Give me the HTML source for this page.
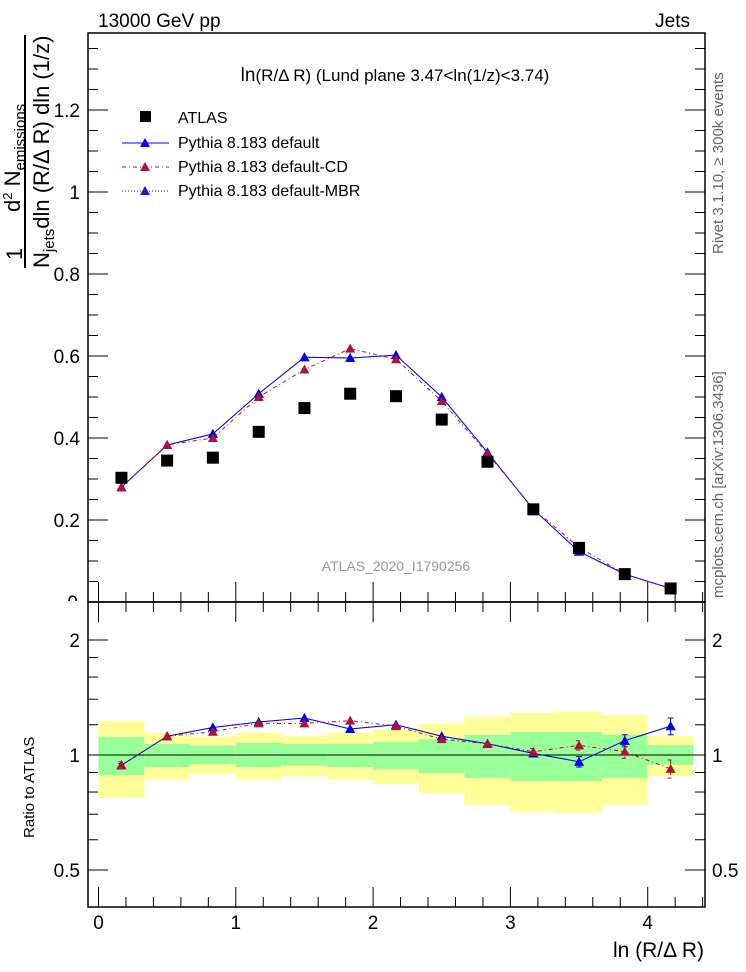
<!DOCTYPE html>
<html><head><meta charset="utf-8"><style>
body{margin:0;background:#fff}
svg{display:block;font-family:"Liberation Sans",sans-serif}
</style></head><body>
<svg id="chart" width="746" height="972" viewBox="0 0 746 972" xmlns="http://www.w3.org/2000/svg">
<rect width="746" height="972" fill="#fff"/>
<defs><clipPath id="zc"><rect x="0" y="590" width="86" height="11"/></clipPath></defs>
<g id="bands"></g>
<g id="axes"></g>
<g id="series"></g>
<text x="98" y="27" font-size="19">13000 GeV pp</text>
<text x="690" y="27" font-size="19" text-anchor="end">Jets</text>
<text x="395" y="81" font-size="17" text-anchor="middle"><tspan font-size="19">ln</tspan>(R/Δ R) (Lund plane 3.47&lt;ln(1/z)&lt;3.74)</text>
<text x="396" y="571" font-size="14" fill="#999" text-anchor="middle">ATLAS_2020_I1790256</text>
<text transform="translate(723,254) rotate(-90)" font-size="15" fill="#666">Rivet 3.1.10, ≥ 300k events</text>
<text transform="translate(723,598) rotate(-90)" font-size="15" fill="#666">mcplots.cern.ch [arXiv:1306.3436]</text>
<g font-size="22">
<line x1="25" y1="35" x2="25" y2="268" stroke="#000" stroke-width="2"/>
<text transform="translate(22,260) rotate(-90)" >1</text>
<text transform="translate(20,212) rotate(-90)">d<tspan font-size="13" dy="-8">2</tspan><tspan dy="8"> N</tspan><tspan font-size="15" dy="5">emissions</tspan></text>
<text transform="translate(49,268) rotate(-90)">N<tspan font-size="15" dy="5">jets</tspan><tspan dy="-5">dln (R/Δ R) dln (1/z)</tspan></text>
</g>
<text transform="translate(34,838) rotate(-90)" font-size="15">Ratio to ATLAS</text>
<text x="704" y="957" font-size="21" text-anchor="end">ln (R/Δ R)</text>
<g font-size="16">
<rect x="140" y="111" width="11" height="11" fill="#000"/>
<text x="178" y="123">ATLAS</text>
<line x1="122" y1="143" x2="169" y2="143" stroke="#00f"/>
<polygon points="145,138 150,147 140,147" fill="#00f"/>
<text x="178" y="148">Pythia 8.183 default</text>
<line x1="122" y1="167" x2="169" y2="167" stroke="#b0103a" stroke-dasharray="4,3,1,3"/>
<polygon points="145,162 150,171 140,171" fill="#b0103a"/>
<text x="178" y="172">Pythia 8.183 default-CD</text>
<line x1="122" y1="191" x2="169" y2="191" stroke="#3010c0" stroke-dasharray="1,2"/>
<polygon points="145,186 150,195 140,195" fill="#3010c0"/>
<text x="178" y="196">Pythia 8.183 default-MBR</text>
</g>
</svg>
<script>
const xCenters=[0.167,0.5,0.833,1.167,1.5,1.833,2.167,2.5,2.833,3.167,3.5,3.833,4.167];
const atlas=[0.303,0.345,0.352,0.415,0.473,0.508,0.502,0.445,0.342,0.226,0.132,0.068,0.033];
const pyDefault=[0.28,0.383,0.41,0.508,0.597,0.595,0.602,0.50,0.365,0.226,0.123,0.068,0.033];
const pyCD=[0.28,0.383,0.40,0.50,0.567,0.618,0.592,0.49,0.362,0.228,0.133,0.068,0.033];
const pyMBR=[0.28,0.383,0.41,0.508,0.597,0.595,0.602,0.50,0.365,0.226,0.123,0.068,0.033];
const ratioDefault=[0.94,1.12,1.18,1.22,1.25,1.17,1.20,1.12,1.07,1.01,0.96,1.09,1.19];
const ratioCD=[0.94,1.12,1.15,1.21,1.21,1.23,1.19,1.10,1.07,1.02,1.06,1.02,0.92];
const ratioMBR=[0.94,1.12,1.18,1.22,1.25,1.17,1.20,1.12,1.07,1.01,0.96,1.09,1.19];
const ratioDefaultErr=[0.01,0,0,0,0,0,0,0,0,0.01,0.03,0.04,0.06];
const ratioCDErr=[0.02,0,0,0,0,0,0,0,0,0.02,0.03,0.04,0.05];
const yellowHi=[1.228,1.144,1.117,1.144,1.123,1.144,1.167,1.208,1.26,1.29,1.30,1.27,1.123];
const yellowLo=[0.773,0.862,0.892,0.862,0.881,0.862,0.84,0.795,0.74,0.71,0.705,0.74,0.881];
const greenHi=[1.115,1.069,1.058,1.077,1.069,1.07,1.083,1.10,1.13,1.149,1.149,1.13,1.062];
const greenLo=[0.886,0.93,0.947,0.93,0.94,0.93,0.917,0.897,0.87,0.855,0.855,0.87,0.942];
const mainYTicks=[0.2,0.4,0.6,0.8,1,1.2];
const mainYLabels=["0.2","0.4","0.6","0.8","1","1.2"];
const xTicks=[0,1,2,3,4];
const ratioTicks=[0.5,1,2];

const NS="http://www.w3.org/2000/svg";
const L=88,R=705,T=33,MB=602,RB=907;
const X=v=>98.5+v*137.3;
const Y=v=>MB-v*410;
const RY=v=>755-Math.log2(v)*115;
function mk(tag,attrs,parent){const e=document.createElementNS(NS,tag);for(const k in attrs)e.setAttribute(k,attrs[k]);parent.appendChild(e);return e;}
const axes=document.getElementById('axes'),bands=document.getElementById('bands'),ser=document.getElementById('series');
const half=1/6;
xCenters.forEach((c,i)=>{
  const y=mk('rect',{x:X(c-half),y:RY(yellowHi[i]),width:X(c+half)-X(c-half),height:RY(yellowLo[i])-RY(yellowHi[i]),fill:'#ffff99'},bands);
  
  
  const g=mk('rect',{x:X(c-half),y:RY(greenHi[i]),width:X(c+half)-X(c-half),height:RY(greenLo[i])-RY(greenHi[i]),fill:'#99ff99'},bands);
  
  
});
mk('line',{x1:L,x2:R,y1:RY(1),y2:RY(1),stroke:'#000'},axes);
mk('rect',{x:L,y:T,width:R-L,height:MB-T,fill:'none',stroke:'#000','stroke-width':1.5},axes);
mk('rect',{x:L,y:MB,width:R-L,height:RB-MB,fill:'none',stroke:'#000','stroke-width':1.5},axes);
for(let v=0.05;Y(v)>T;v+=0.05){const maj=Math.abs(v*5-Math.round(v*5))<1e-6;const l=maj?20:10;
 mk('line',{x1:L,x2:L+l,y1:Y(v),y2:Y(v),stroke:'#000'},axes);mk('line',{x1:R,x2:R-l,y1:Y(v),y2:Y(v),stroke:'#000'},axes);}
mainYTicks.forEach((v,i)=>{const t=mk('text',{x:80,y:Y(v)+7,'font-size':19,'text-anchor':'end'},axes);t.textContent=mainYLabels[i];
 
 });
{const t=mk('text',{x:78,y:609,'font-size':19,'text-anchor':'end','clip-path':'url(#zc)'},axes);t.textContent='0';}
for(let v=-0.0;X(v)<R;v+=0.2){const maj=Math.abs(v-Math.round(v))<1e-6;const l=maj?20:10;
 [MB,RB].forEach(b=>mk('line',{x1:X(v),x2:X(v),y1:b,y2:b-l,stroke:'#000'},axes));
 mk('line',{x1:X(v),x2:X(v),y1:MB,y2:MB+l,stroke:'#000'},axes);}
xTicks.forEach(v=>{const t=mk('text',{x:X(v),y:929,'font-size':19,'text-anchor':'middle'},axes);t.textContent=String(v);
 
 });
[0.5,0.6,0.7,0.8,0.9,1,1.2,1.4,1.6,1.8,2].forEach(v=>{const maj=ratioTicks.includes(v);const l=maj?20:10;
 mk('line',{x1:L,x2:L+l,y1:RY(v),y2:RY(v),stroke:'#000'},axes);mk('line',{x1:R,x2:R-l,y1:RY(v),y2:RY(v),stroke:'#000'},axes);});
ratioTicks.forEach(v=>{[80,712].forEach((x,j)=>{const t=mk('text',{x:x,y:RY(v)+7,'font-size':19,'text-anchor':j?'start':'end'},axes);t.textContent=String(v);
 
 });});
function line(vals,yf,color,dash,name,errs){const p=mk('polyline',{points:xCenters.map((c,i)=>X(c)+','+yf(vals[i])).join(' '),fill:'none',stroke:color,'stroke-dasharray':dash},ser);
 
 
 xCenters.forEach((c,i)=>{const x=X(c),y=yf(vals[i]);
 if(errs&&errs[i]>0){const e=mk('path',{d:`M${x-3},${yf(vals[i]+errs[i])}H${x+3}M${x},${yf(vals[i]+errs[i])}V${yf(vals[i]-errs[i])}M${x-3},${yf(vals[i]-errs[i])}H${x+3}`,stroke:color,fill:'none','stroke-dasharray':dash},ser);
  
  }
 const m=mk('polygon',{points:`${x},${y-5} ${x+5},${y+4} ${x-5},${y+4}`,fill:color},ser);
 
 });}
line(pyMBR,Y,'#3010c0','1,2','mbr');
line(pyDefault,Y,'#0000ee','','default');
line(pyCD,Y,'#b0103a','4,3,1,3','cd');
xCenters.forEach((c,i)=>{const r=mk('rect',{x:X(c)-6,y:Y(atlas[i])-6,width:12,height:12,fill:'#000'},ser);
 
 });
line(ratioMBR,RY,'#3010c0','1,2','ratio-mbr');
line(ratioDefault,RY,'#0000ee','','ratio-default',ratioDefaultErr);
line(ratioCD,RY,'#b0103a','4,3,1,3','ratio-cd',ratioCDErr);
</script>
</body></html>
